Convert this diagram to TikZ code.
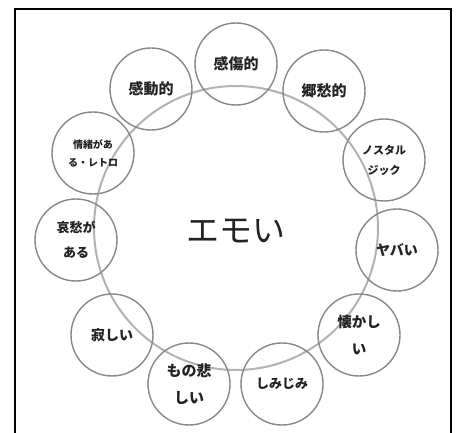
\documentclass[tikz,border=0pt]{standalone}
\usepackage{fontspec}
\newfontfamily\jp{Noto Sans CJK JP}
\usepackage{tikz}
\usetikzlibrary{positioning}
\definecolor{ringGray}{RGB}{178, 178, 178}
\definecolor{bubbleGray}{RGB}{136, 136, 136}
\definecolor{inkGray}{RGB}{34, 34, 34}
\tikzset{
    frame/.style={draw=black, line width=2.4pt},
    ring/.style={draw=ringGray, line width=2pt},
    bubble/.style={circle, draw=bubbleGray, line width=1.4pt, minimum size=82pt, inner sep=0pt,
        align=center, text=inkGray},
    word/.style={font=\jp\bfseries\fontsize{#1}{#1}\selectfont},
    pair/.style 2 args={font=\jp\bfseries\fontsize{#1}{#2}\selectfont}
}

\begin{document}
\begin{tikzpicture}[x=1pt, y=-1pt]
    \useasboundingbox[fill=white] (0,0) rectangle (456,433);
    % Frame, open at the bottom edge
    \draw[frame] (15,9) rectangle (451,450);

    % Big ring with the keyword
    \draw[ring] (236,228) circle (142pt);
    \node[text=inkGray, font=\jp\fontsize{33}{33}\selectfont] (emoi) at (236,231) {エモい};

    % Bubbles around the ring
    \node[bubble, word=15] (kansho) at (236,64) {感傷的};
    \node[bubble, word=15] (kando) at (151,89) {感動的};
    \node[bubble, word=15] (kyoshu) at (324,91) {郷愁的};
    \node[bubble, pair={10}{18}] (jocho) at (93,153) {情緒があ\\る・レトロ};
    \node[bubble, pair={11}{20}] (nostalgic) at (384,160) {ノスタル\\ジック};
    \node[bubble, pair={13}{25}] (aishu) at (76,240) {哀愁が\\ある};
    \node[bubble, word=14] (yabai) at (397,250) {ヤバい};
    \node[bubble, word=14] (sabishii) at (112,335) {寂しい};
    \node[bubble, pair={14.5}{27}] (natsukashii) at (359,335) {懐かし\\い};
    \node[bubble, pair={15}{27}] (monoganashii) at (189,384) {もの悲\\しい};
    \node[bubble, word=13] (shimijimi) at (282,384) {しみじみ};
\end{tikzpicture}
\end{document}
